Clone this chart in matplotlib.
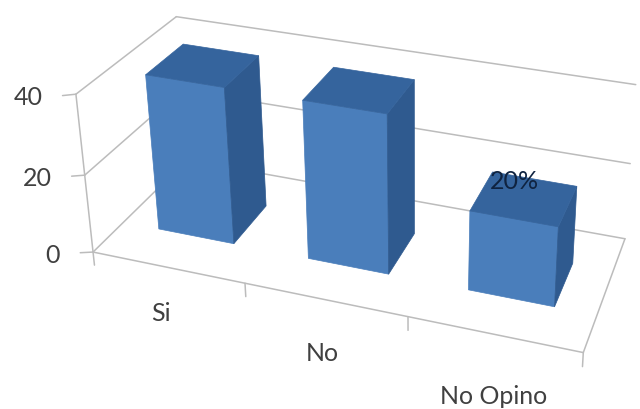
import numpy as np
import matplotlib
matplotlib.use('Agg')
import matplotlib.pyplot as plt
from matplotlib.patches import Polygon

categories = ['Si', 'No', 'No Opino']
values = [40, 40, 20]
value_ticks = [0, 20, 40]
point_labels = [None, None, '20%']

FRONT = '#4a7ebb'
SIDE = '#2f5a8f'
TOP = '#35649d'
FRAME = '#bcbcbc'
TEXT = '#404040'

BAR_WIDTH = 0.51
DEPTH_FRONT = 0.30
DEPTH_BACK = 0.69

# camera calibration: chart box corners (category, depth, value) -> pixels
box_world = np.array([[0, 0, 0], [3, 0, 0], [3, 1, 0], [0, 1, 0],
                      [0, 0, 40], [0, 1, 40], [3, 1, 40], [0, 0, 20]], float)
box_pixel = np.array([[92, 252], [583, 353], [625, 238], [188, 160],
                      [77, 93], [175, 17], [636, 85], [85, 176]], float)


def fit_camera(world, pixel):
    """Least squares fit of a 3x4 projection matrix"""
    rows, rhs = [], []
    for (x, d, z), (u, v) in zip(world, pixel):
        rows.append([x, d, z, 1, 0, 0, 0, 0, -u * x, -u * d, -u * z])
        rows.append([0, 0, 0, 0, x, d, z, 1, -v * x, -v * d, -v * z])
        rhs += [u, v]
    p = np.linalg.lstsq(np.array(rows), np.array(rhs), rcond=None)[0]
    return np.append(p, 1).reshape(3, 4)


CAMERA = fit_camera(box_world, box_pixel)


def project(x, d, z):
    h = CAMERA @ np.array([x, d, z, 1.0])
    return h[0] / h[2], h[1] / h[2]


def line3d(ax, a, b, lw=1.1):
    pa, pb = project(*a), project(*b)
    ax.plot([pa[0], pb[0]], [pa[1], pb[1]], color=FRAME, lw=lw,
            solid_capstyle='round', zorder=1)


def draw_bar(ax, i, value):
    x0 = i + 0.5 - BAR_WIDTH / 2
    x1 = i + 0.5 + BAR_WIDTH / 2
    d0, d1 = DEPTH_FRONT, DEPTH_BACK
    faces = [
        (FRONT, [(x0, d0, 0), (x1, d0, 0), (x1, d0, value), (x0, d0, value)]),
        (SIDE, [(x1, d0, 0), (x1, d1, 0), (x1, d1, value), (x1, d0, value)]),
        (TOP, [(x0, d0, value), (x1, d0, value), (x1, d1, value), (x0, d1, value)]),
    ]
    for color, corners in faces:
        ax.add_patch(Polygon([project(*c) for c in corners], closed=True,
                             facecolor=color, edgecolor=color, lw=0.5, zorder=2))


fig = plt.figure(figsize=(6.4, 4.09), dpi=100)
ax = fig.add_axes([0, 0, 1, 1])
ax.set_xlim(0, 640)
ax.set_ylim(409, 0)
ax.axis('off')

n = len(categories)

# walls and floor
for v in value_ticks:
    line3d(ax, (0, 0, v), (0, 1, v))
    line3d(ax, (0, 1, v), (n, 1, v))
line3d(ax, (0, 0, 0), (0, 0, 40))
line3d(ax, (0, 0, 0), (n, 0, 0))
line3d(ax, (n, 0, 0), (n, 1, 0))

# tick marks
for v in value_ticks:
    line3d(ax, (0, 0, v), (-0.09, 0, v - 0.9))
for i in range(n + 1):
    line3d(ax, (i, 0, 0), (i, 0, -3.5))

for i, v in enumerate(values):
    draw_bar(ax, i, v)

plt.rcParams['font.family'] = ['Lato', 'DejaVu Sans']

for v in value_ticks:
    px, py = project(0, 0, v)
    ax.text(px - 33, py + 3, str(v), ha='right', va='center', fontsize=18, color=TEXT)

label_offsets = [(-7, 46), (-3, 54), (0, 62)]
for i, name in enumerate(categories):
    px, py = project(i + 0.5, 0, 0)
    ax.text(px + label_offsets[i][0], py + label_offsets[i][1], name,
            ha='center', va='center', fontsize=18, color=TEXT)

for i, label in enumerate(point_labels):
    if label is not None:
        px, py = project(i + 0.5, DEPTH_BACK, values[i])
        ax.text(px - 20, py + 2, label, ha='center', va='center', fontsize=18,
                color='#0f2340', zorder=3)

fig.savefig('out.png', dpi=100)
